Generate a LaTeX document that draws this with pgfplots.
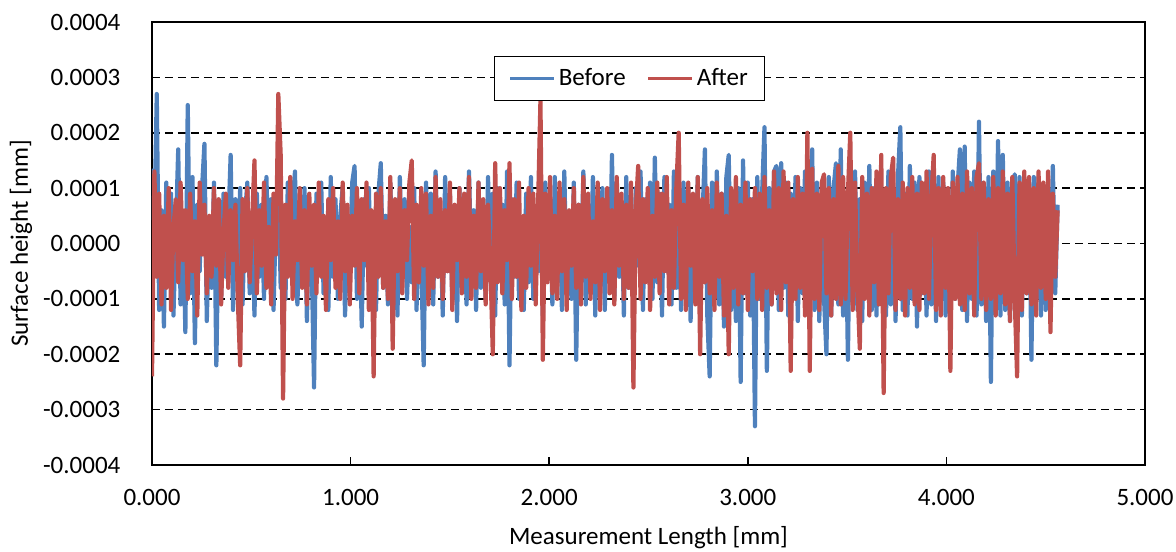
\documentclass[border=0pt]{standalone}
\usepackage{pgfplots}
\pgfplotsset{compat=1.18}
\usepackage{pgfplotstable}
\usepackage{fontspec}
\setmainfont{Carlito}
\definecolor{bl}{RGB}{79,129,189}
\definecolor{rd}{RGB}{192,80,77}
% y values in units of 0.0001 mm
\pgfplotstableread{
x b a
0.000 1.35 -2.4
0.012 0.3 1.3
0.024 2.7 -0.6
0.036 -1.2 0.9
0.048 0.6 -1.1
0.060 -1.5 0.5
0.072 1.1 -0.8
0.084 -0.4 1.0
0.096 0.9 -1.2
0.108 -1.3 0.3
0.120 0.2 0.8
0.132 1.7 -0.7
0.144 -1.1 1.1
0.156 0.5 -0.3
0.168 -1.6 0.6
0.180 2.5 -1.0
0.192 -0.9 0.9
0.204 1.2 -0.5
0.216 -1.8 0.4
0.228 0.7 -1.3
0.240 -0.5 1.1
0.252 1.0 -0.2
0.264 1.8 0.7
0.276 -1.4 -0.9
0.288 0.4 0.5
0.300 -0.8 -0.6
0.312 1.1 1.0
0.324 -2.2 -0.4
0.336 0.6 0.8
0.348 -1.0 -1.1
0.360 0.9 0.2
0.372 -0.6 0.9
0.384 0.3 -0.8
0.396 1.6 0.6
0.408 -1.2 -0.3
0.420 0.8 0.7
0.432 -0.4 -1.0
0.444 1.0 -2.2
0.456 -1.1 0.8
0.468 0.5 -0.5
0.480 1.1 1.0
0.492 -0.9 -0.7
0.504 0.4 0.4
0.516 -1.3 1.5
0.528 0.9 -0.9
0.540 -0.6 0.6
0.552 0.7 -0.4
0.564 -1.0 1.1
0.576 1.2 -0.8
0.588 -0.3 0.3
0.600 0.8 -1.1
0.612 -1.2 0.9
0.624 0.5 -0.2
0.636 1.3 2.7
0.648 -0.8 1.6
0.660 0.6 -2.8
0.672 -1.0 0.7
0.684 1.1 -0.6
0.696 -0.5 1.2
0.708 0.7 -1.0
0.720 1.3 0.4
0.732 -1.1 -0.3
0.744 0.2 1.0
0.756 -0.7 -0.8
0.768 1.0 0.6
0.780 -1.4 -1.1
0.792 0.6 0.9
0.804 -0.3 -0.4
0.816 -2.6 0.7
0.828 0.9 -0.9
0.840 -0.5 1.1
0.852 1.1 -0.6
0.864 -0.9 0.5
0.876 0.4 -1.2
0.888 -1.2 0.8
0.900 1.2 -0.3
0.912 -0.6 1.0
0.924 0.8 -0.8
0.936 -1.0 0.4
0.948 0.5 -1.0
0.960 1.0 1.1
0.972 -1.3 -0.5
0.984 0.3 0.7
0.996 -0.7 -1.1
1.008 1.1 0.5
1.020 1.4 -0.4
1.032 -1.0 1.0
1.044 0.6 -0.9
1.056 -1.5 0.8
1.068 0.8 -0.3
1.080 -0.4 1.1
1.092 1.0 -1.2
1.104 -0.9 0.6
1.116 0.4 -2.4
1.128 -1.2 0.9
1.140 0.9 -0.6
1.152 1.45 1.0
1.164 -0.8 -0.8
1.176 0.5 0.4
1.188 -1.1 -1.0
1.200 1.1 1.2
1.212 -0.6 -1.9
1.224 0.7 0.8
1.236 -1.3 -0.5
1.248 1.2 1.0
1.260 -0.5 -0.9
1.272 0.8 0.6
1.284 -1.0 -0.3
1.296 0.3 1.1
1.308 -0.7 1.5
1.320 1.0 -1.0
1.332 -1.2 0.7
1.344 0.6 -0.7
1.356 -0.4 1.0
1.368 -2.2 -0.4
1.380 1.1 0.9
1.392 -0.8 -1.1
1.404 0.9 0.5
1.416 -1.1 -0.8
1.428 1.3 1.2
1.440 -0.6 -0.6
1.452 0.5 0.8
1.464 -1.3 -1.0
1.476 1.2 0.6
1.488 -0.5 -0.5
1.500 0.9 1.1
1.512 -1.0 -1.2
1.524 0.4 0.7
1.536 -1.4 -0.3
1.548 1.0 1.0
1.560 -0.7 -0.9
1.572 0.8 0.9
1.584 -1.1 -0.6
1.596 1.3 1.2
1.608 -0.4 -1.0
1.620 0.6 0.5
1.632 -1.2 -0.8
1.644 1.1 1.1
1.656 -0.8 -0.5
1.668 0.5 0.8
1.680 -1.0 -1.1
1.692 1.2 0.7
1.704 -0.6 -0.4
1.716 0.9 -2.0
1.728 -1.3 1.45
1.740 1.0 -0.7
1.752 -0.5 1.0
1.764 0.7 -0.9
1.776 -1.1 0.6
1.788 1.3 -0.3
1.800 -2.2 1.45
1.812 0.8 -1.0
1.824 -0.6 0.8
1.836 1.1 -0.6
1.848 -1.0 1.1
1.860 0.4 -1.2
1.872 -1.2 0.5
1.884 0.9 -0.8
1.896 -0.7 1.0
1.908 1.2 -0.4
1.920 -1.0 0.9
1.932 0.6 -1.1
1.944 -0.5 0.7
1.956 1.0 2.6
1.968 -1.3 -2.1
1.980 1.1 0.9
1.992 -0.6 -0.7
2.004 0.8 1.2
2.016 -1.1 -0.9
2.028 1.2 0.5
2.040 -0.4 -1.0
2.052 0.9 1.1
2.064 -1.2 -0.5
2.076 1.3 0.8
2.088 -0.8 -1.2
2.100 0.5 0.6
2.112 -1.0 -0.4
2.124 1.1 1.0
2.136 -2.1 -0.8
2.148 0.7 0.7
2.160 -0.6 -1.1
2.172 1.3 1.2
2.184 -1.1 -0.6
2.196 0.6 0.9
2.208 -0.9 -1.0
2.220 1.2 0.4
2.232 -1.3 -0.7
2.244 0.8 1.1
2.256 -0.5 -1.2
2.268 1.0 0.8
2.280 -1.2 -0.5
2.292 0.9 1.0
2.304 -0.7 -0.9
2.316 1.6 0.6
2.328 -1.0 -1.1
2.340 1.1 1.2
2.352 -0.6 -0.4
2.364 0.7 0.9
2.376 -1.3 -1.0
2.388 1.2 0.7
2.400 -0.8 -0.8
2.412 0.5 1.1
2.424 -1.1 -2.6
2.436 1.0 0.6
2.448 -0.4 1.4
2.460 1.3 -1.0
2.472 -1.2 0.8
2.484 0.8 -0.7
2.496 -0.6 1.0
2.508 1.1 -1.2
2.520 -1.0 0.5
2.532 1.55 -0.6
2.544 -0.7 1.1
2.556 0.9 -0.9
2.568 -1.3 0.9
2.580 1.2 -0.5
2.592 -0.5 1.2
2.604 0.7 -1.1
2.616 -1.1 0.6
2.628 1.3 -0.8
2.640 -0.8 1.0
2.652 0.6 2.0
2.664 -1.2 -1.0
2.676 1.1 0.7
2.688 -0.6 -1.2
2.700 1.0 1.1
2.712 -1.4 -0.4
2.724 0.8 0.9
2.736 -0.9 -1.1
2.748 1.2 1.2
2.760 -1.0 -2.0
2.772 0.5 0.8
2.784 1.7 -0.7
2.796 -1.3 1.0
2.808 -2.4 -0.9
2.820 1.1 0.6
2.832 -0.7 -1.2
2.844 1.3 1.1
2.856 -1.1 -0.6
2.868 0.9 0.9
2.880 -1.5 -1.3
2.892 1.2 0.5
2.904 1.6 -2.0
2.916 -1.2 1.0
2.928 0.7 -0.8
2.940 -1.4 1.2
2.952 1.0 -1.1
2.964 -2.5 0.7
2.976 1.5 -0.9
2.988 -0.9 1.1
3.000 1.1 -1.2
3.012 -1.3 0.8
3.024 0.8 -0.5
3.036 -3.3 1.0
3.048 1.2 -1.0
3.060 -1.0 0.9
3.072 0.9 -1.2
3.084 2.1 1.2
3.096 -2.3 -0.8
3.108 1.0 0.6
3.120 -1.1 -1.1
3.132 1.3 1.3
3.144 1.4 -0.9
3.156 -1.2 1.0
3.168 1.45 -1.2
3.180 -0.8 1.3
3.192 1.1 -0.7
3.204 -1.3 1.1
3.216 0.9 -2.3
3.228 -1.0 0.8
3.240 1.2 -1.0
3.252 -1.4 1.2
3.264 1.0 -0.8
3.276 -0.9 0.9
3.288 1.3 -1.3
3.300 -1.1 2.0
3.312 0.8 -2.3
3.324 1.7 1.35
3.336 -1.2 -1.0
3.348 1.1 0.9
3.360 -1.4 -1.2
3.372 0.9 1.1
3.384 -1.0 1.25
3.396 -2.0 -0.9
3.408 1.2 1.0
3.420 -1.3 -1.3
3.432 1.0 0.8
3.444 1.45 -1.0
3.456 -1.1 1.4
3.468 1.7 -1.1
3.480 -1.3 1.2
3.492 0.9 -1.0
3.504 -2.1 0.9
3.516 1.2 2.0
3.528 -1.0 -1.2
3.540 1.3 1.1
3.552 -1.2 -0.8
3.564 0.8 -1.9
3.576 -1.4 1.2
3.588 1.1 -1.0
3.600 -0.9 0.9
3.612 1.4 -1.3
3.624 -1.2 1.0
3.636 1.0 -0.7
3.648 -1.3 1.3
3.660 1.2 -1.1
3.672 -1.0 1.6
3.684 0.9 -2.7
3.696 -1.3 1.0
3.708 1.3 -0.9
3.720 -1.1 1.2
3.732 1.0 1.55
3.744 -1.4 -1.2
3.756 1.2 0.8
3.768 2.1 -1.0
3.780 -1.2 1.1
3.792 0.9 -1.3
3.804 -1.3 1.0
3.816 1.4 -0.8
3.828 -1.0 1.2
3.840 1.1 -1.1
3.852 -1.5 0.9
3.864 1.2 -1.2
3.876 -0.9 1.1
3.888 1.0 -0.9
3.900 -1.3 1.3
3.912 1.3 -1.0
3.924 -1.1 0.8
3.936 0.9 1.6
3.948 -1.4 -1.2
3.960 1.2 1.0
3.972 -1.0 -1.3
3.984 1.1 1.2
3.996 -1.3 -0.8
4.008 0.8 1.0
4.020 -1.2 -2.3
4.032 1.3 1.1
4.044 -1.0 -1.0
4.056 1.0 1.2
4.068 1.7 -1.1
4.080 -1.2 0.9
4.092 1.75 -1.2
4.104 -1.4 1.3
4.116 1.1 -0.9
4.128 -1.0 1.0
4.140 1.3 -1.3
4.152 -1.3 1.2
4.164 2.2 1.45
4.176 -1.1 -1.0
4.188 1.0 1.1
4.200 -1.4 -1.2
4.212 1.2 0.8
4.224 -2.5 -1.0
4.236 1.3 1.2
4.248 -1.0 -1.3
4.260 1.85 1.0
4.272 -1.3 -0.9
4.284 1.6 1.3
4.296 -1.2 -1.1
4.308 1.1 0.9
4.320 -1.4 -1.4
4.332 1.0 1.2
4.344 1.25 -1.0
4.356 -1.1 -2.4
4.368 1.2 1.1
4.380 -1.3 -1.2
4.392 1.0 1.3
4.404 -0.9 -0.9
4.416 1.1 1.2
4.428 -2.1 -1.1
4.440 1.2 1.0
4.452 -1.0 -1.3
4.464 1.2 1.3
4.476 -1.3 -0.8
4.488 1.0 1.1
4.500 -1.2 -1.0
4.512 1.0 1.3
4.524 -0.8 -1.6
4.536 1.4 0.9
4.548 -0.9 -0.6
4.560 0.7 0.6
}\profile
\begin{document}
\begin{tikzpicture}
\begin{axis}[
  name=ax,
  scale only axis, width=496.5bp, height=221.5bp,
  xmin=0, xmax=5, ymin=-4, ymax=4,
  font=\fontsize{12.5bp}{15bp}\selectfont,
  xtick={0,1,2,3,4,5},
  xticklabels={0.000,1.000,2.000,3.000,4.000,5.000},
  ytick={-4,-3,-2,-1,0,1,2,3,4},
  yticklabels={-0.0004,-0.0003,-0.0002,-0.0001,0.0000,0.0001,0.0002,0.0003,0.0004},
  xtick pos=bottom, ytick pos=left, tick align=inside,
  major tick length=4bp,
  xtick style={black, line width=0.75bp},
  ytick style={draw=none},
  axis line style={black, line width=0.75bp},
  ymajorgrids,
  grid style={black, line width=0.85bp, dash pattern=on 4bp off 2.5bp},
  yticklabel style={xshift=-12.3bp},
  xticklabel style={yshift=-8.8bp},
  xlabel={Measurement Length [mm]},
  ylabel={Surface height [mm]},
  xlabel style={at={([yshift=-39.5bp]axis description cs:0.5,0)}, anchor=base},
  ylabel style={at={([xshift=-62bp]axis description cs:0,0.5)}, anchor=base},
  legend columns=2,
  legend style={at={(0.481,0.8725)}, anchor=center, draw=black, line width=0.75bp,
    fill=white, inner xsep=7bp, inner ysep=4.5bp,
    font=\fontsize{12.5bp}{15bp}\selectfont,
    nodes={inner sep=1.5bp},
    /tikz/every even column/.append style={column sep=9bp}},
  legend image code/.code={\draw[#1, line width=1.6bp] (0bp,0bp) -- (22bp,0bp);},
]
\addplot[bl, line width=2.1bp, line join=round] table[x=x, y=b] {\profile};
\addlegendentry{Before}
\addplot[rd, line width=2.1bp, line join=round] table[x=x, y=a] {\profile};
\addlegendentry{After}
\end{axis}
\pgfresetboundingbox
\path[use as bounding box] ([shift={(-76bp,-43.5bp)}]ax.south west) rectangle ([shift={(512bp,232.5bp)}]ax.south west);
\end{tikzpicture}
\end{document}
